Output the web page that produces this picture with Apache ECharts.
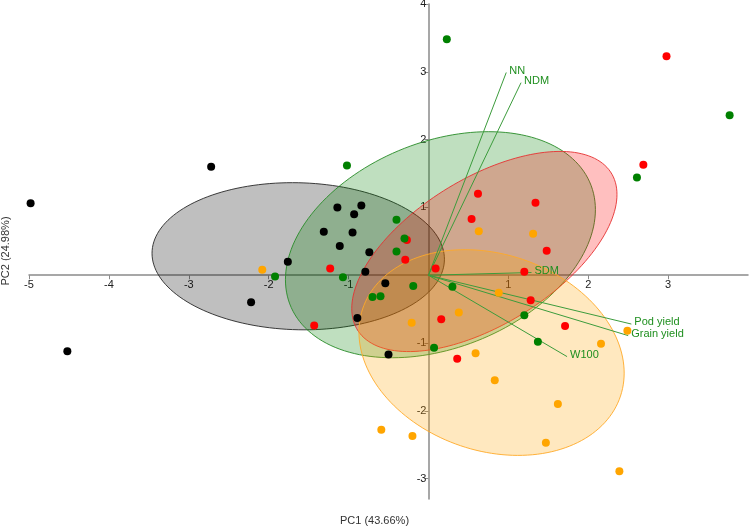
<!DOCTYPE html>
<html>
<head>
<meta charset="utf-8">
<script src="https://cdn.jsdelivr.net/npm/echarts@6.0.0/dist/echarts.min.js"></script>
<style>
  html, body { margin: 0; padding: 0; background: #fff; }
  #pca { width: 749px; height: 528px; }
</style>
</head>
<body>
<div id="pca"></div>
<script>
// PC1 / PC2 scores, one array per group
var blackPts = [[-4.98, 1.06], [-2.72, 1.60], [-4.52, -1.12], [-2.22, -0.40], [-1.14, 1.00], [-0.84, 1.03],
  [-0.93, 0.90], [-1.31, 0.64], [-0.95, 0.63], [-1.11, 0.43], [-0.74, 0.34], [-1.76, 0.20],
  [-0.79, 0.05], [-0.54, -0.12], [-0.89, -0.63], [-0.50, -1.17]];
var greenPts = [[0.23, 3.48], [-1.02, 1.62], [3.77, 2.36], [2.61, 1.44], [-0.40, 0.82], [-0.30, 0.54],
  [-0.40, 0.35], [-1.92, -0.02], [-1.07, -0.03], [-0.19, -0.16], [-0.70, -0.32], [-0.60, -0.31],
  [0.30, -0.17], [0.07, -1.07], [1.20, -0.59], [1.37, -0.98]];
var redPts = [[2.98, 3.23], [2.69, 1.63], [0.62, 1.20], [0.54, 0.83], [-0.27, 0.52], [-0.29, 0.23],
  [-1.23, 0.10], [0.09, 0.10], [-1.43, -0.74], [0.16, -0.65], [1.34, 1.07], [1.48, 0.36],
  [1.20, 0.05], [1.28, -0.37], [1.71, -0.75], [0.36, -1.23]];
var orangePts = [[-2.08, 0.08], [0.63, 0.65], [1.31, 0.61], [0.88, -0.26], [0.38, -0.55], [-0.21, -0.70],
  [2.49, -0.82], [2.16, -1.01], [0.59, -1.15], [0.83, -1.55], [-0.59, -2.28], [-0.20, -2.37],
  [1.62, -1.90], [1.47, -2.47], [2.39, -2.89]];

// group ellipses: centre, half width (PC1), half height (PC2), correlation
var ellCenters = [[-1.63, 0.28], [0.15, 0.45], [0.70, 0.35], [0.79, -1.14]];
var ellHalfX = [1.83, 1.94, 1.66, 1.66];
var ellHalfY = [1.085, 1.667, 1.476, 1.517];
var ellRho = [-0.04, 0.31, 0.57, -0.20];

// loading vectors
var vecNames = ['NN', 'NDM', 'SDM', 'Pod yield', 'Grain yield', 'W100'];
var vecX = [0.974, 1.159, 1.29, 2.54, 2.50, 1.735];
var vecY = [2.99, 2.84, 0.04, -0.72, -0.89, -1.20];

var xTicks = [-5, -4, -3, -2, -1, 1, 2, 3];
var yTicks = [-3, -2, -1, 1, 2, 3, 4];
var xMin = -5, xMax = 4, yMin = -3.3, yMax = 4;

var W = 749, H = 528;
var gLeft = 29, gRight = 1, gTop = 4, gBottom = 29;

var ellFill = ['rgba(0,0,0,0.25)', 'rgba(0,128,0,0.25)', 'rgba(255,0,0,0.25)', 'rgba(255,165,0,0.25)'];
var ellStroke = ['rgba(40,40,40,0.9)', 'rgba(40,140,40,0.9)', 'rgba(230,50,50,0.9)', 'rgba(255,170,40,0.9)'];
var font = '"Liberation Sans", Arial, sans-serif';

var ellData = [];
for (var i = 0; i < ellCenters.length; i++) {
  ellData.push([ellCenters[i][0], ellCenters[i][1], ellHalfX[i], ellHalfY[i], ellRho[i]]);
}
var vecData = [];
for (var j = 0; j < vecNames.length; j++) {
  vecData.push([vecX[j], vecY[j]]);
}

// move the axes onto the origin (labels included)
var gw = W - gLeft - gRight, gh = H - gTop - gBottom;
var xOffset = -gh * (0 - yMin) / (yMax - yMin);
var yOffset = -gw * (0 - xMin) / (xMax - xMin);

function renderEllipse(params, api) {
  var cx = api.value(0), cy = api.value(1), sx = api.value(2), sy = api.value(3), r = api.value(4);
  var k = Math.sqrt(1 - r * r);
  var pts = [];
  for (var n = 0; n < 160; n++) {
    var t = n / 160 * Math.PI * 2;
    pts.push(api.coord([cx + sx * Math.cos(t), cy + sy * (r * Math.cos(t) + k * Math.sin(t))]));
  }
  return {
    type: 'polygon',
    shape: { points: pts },
    style: { fill: ellFill[params.dataIndex], stroke: ellStroke[params.dataIndex], lineWidth: 1 }
  };
}

function renderVector(params, api) {
  var o = api.coord([0, 0]);
  var e = api.coord([api.value(0), api.value(1)]);
  return {
    type: 'group',
    children: [
      { type: 'line', shape: { x1: o[0], y1: o[1], x2: e[0], y2: e[1] },
        style: { stroke: '#3c9c3c', lineWidth: 1 } },
      { type: 'text', x: e[0] + 3, y: e[1] - 2,
        style: { text: vecNames[params.dataIndex], fill: '#1f8f1f', font: '11px ' + font,
                 align: 'left', verticalAlign: 'middle' } }
    ]
  };
}

function scatter(name, pts, color) {
  return {
    name: name, type: 'scatter', data: pts, symbolSize: 8, z: 5,
    itemStyle: { color: color, opacity: 1 }
  };
}

var chart = echarts.init(document.getElementById('pca'));
chart.setOption({
  animation: false,
  backgroundColor: '#fff',
  grid: { left: gLeft, right: gRight, top: gTop, bottom: gBottom, containLabel: false, outerBoundsMode: 'none' },
  xAxis: {
    type: 'value', min: xMin, max: xMax, position: 'bottom', offset: xOffset,
    axisLine: { onZero: false, lineStyle: { color: '#8a8a8a', width: 1.5 } },
    axisTick: { length: 4, lineStyle: { color: '#8a8a8a' }, customValues: xTicks },
    axisLabel: { customValues: xTicks, color: '#222', fontSize: 11, fontFamily: font, margin: 4 },
    splitLine: { show: false }
  },
  yAxis: {
    type: 'value', min: yMin, max: yMax, position: 'left', offset: yOffset,
    axisLine: { onZero: false, lineStyle: { color: '#8a8a8a', width: 1.5 } },
    axisTick: { length: 4, lineStyle: { color: '#8a8a8a' }, customValues: yTicks },
    axisLabel: { customValues: yTicks, color: '#222', fontSize: 11, fontFamily: font, margin: 2 },
    splitLine: { show: false }
  },
  graphic: [
    { type: 'text', left: 'center', top: 515, style: { text: 'PC1 (43.66%)', fill: '#333', font: '11px ' + font } },
    { type: 'text', x: 0, y: 251, rotation: Math.PI / 2,
      style: { text: 'PC2 (24.98%)', fill: '#333', font: '11px ' + font, align: 'center', verticalAlign: 'top' } }
  ],
  series: [
    { type: 'custom', renderItem: renderEllipse, data: ellData, encode: { x: 0, y: 1 }, silent: true, z: 1 },
    { type: 'custom', renderItem: renderVector, data: vecData, encode: { x: 0, y: 1 }, silent: true, z: 3 },
    scatter('Black', blackPts, '#000000'),
    scatter('Red', redPts, '#ff0000'),
    scatter('Orange', orangePts, '#ffa500'),
    scatter('Green', greenPts, '#008000')
  ]
});
</script>
</body>
</html>
